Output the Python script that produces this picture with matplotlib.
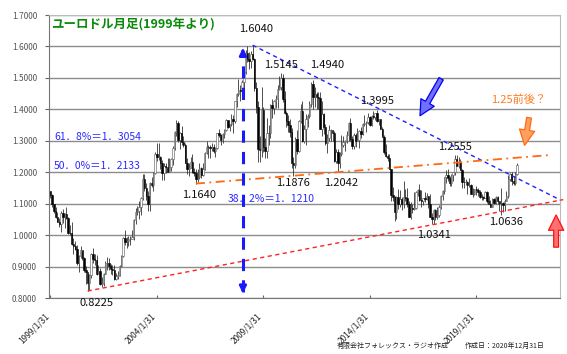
import numpy as np
import matplotlib
matplotlib.use("Agg")
import matplotlib.pyplot as plt
from matplotlib.transforms import ScaledTranslation

plt.rcParams['font.family'] = ['Noto Sans CJK JP', 'DejaVu Sans']

# EUR/USD monthly bars, 1999/1 .. 2020/12 (open = previous close)
first_open = 1.1400
highs = [
    1.1420, 1.1310, 1.1000, 1.0890, 1.0740, 1.0530, 1.0760, 1.0840, 1.0710, 1.0880, 1.0590, 1.0330,
    1.0420, 0.9920, 0.9810, 0.9690, 0.9360, 0.9660, 0.9490, 0.9300, 0.9020, 0.8760, 0.8750, 0.9430,
    0.9590, 0.9390, 0.9370, 0.9060, 0.8950, 0.8680, 0.8810, 0.9190, 0.9300, 0.9270, 0.9070, 0.9050,
    0.9040, 0.8800, 0.8850, 0.9040, 0.9380, 0.9940, 1.0160, 0.9940, 0.9960, 0.9960, 1.0180, 1.0500,
    1.0870, 1.0940, 1.1080, 1.1200, 1.1930, 1.1930, 1.1660, 1.1410, 1.1680, 1.1850, 1.2000, 1.2640,
    1.2930, 1.2930, 1.2520, 1.2390, 1.2280, 1.2310, 1.2460, 1.2440, 1.2440, 1.2820, 1.3320, 1.3670,
    1.3620, 1.3290, 1.3480, 1.3140, 1.2940, 1.2460, 1.2300, 1.2480, 1.2590, 1.2140, 1.2100, 1.2110,
    1.2290, 1.2180, 1.2280, 1.2630, 1.2980, 1.2880, 1.2860, 1.2940, 1.2900, 1.2800, 1.3260, 1.3370,
    1.3210, 1.3250, 1.3380, 1.3680, 1.3640, 1.3540, 1.3850, 1.3820, 1.4280, 1.4530, 1.4970, 1.4760,
    1.4930, 1.5240, 1.5900, 1.6020, 1.5820, 1.5840, 1.6040, 1.5630, 1.4870, 1.4250, 1.3140, 1.4720,
    1.4070, 1.3080, 1.3740, 1.3490, 1.4170, 1.4340, 1.4300, 1.4450, 1.4780, 1.5060, 1.5145, 1.5140,
    1.4580, 1.3960, 1.3820, 1.3690, 1.3410, 1.2470, 1.3110, 1.3330, 1.3650, 1.4160, 1.4280, 1.3500,
    1.3860, 1.3860, 1.4250, 1.4880, 1.4940, 1.4700, 1.4560, 1.4550, 1.4550, 1.4250, 1.3880, 1.3550,
    1.3230, 1.3490, 1.3390, 1.3280, 1.3300, 1.2740, 1.2750, 1.2630, 1.3170, 1.3140, 1.3010, 1.3310,
    1.3600, 1.3710, 1.3140, 1.3240, 1.3240, 1.3420, 1.3340, 1.3450, 1.3570, 1.3830, 1.3620, 1.3900,
    1.3780, 1.3820, 1.3960, 1.3900, 1.3995, 1.3700, 1.3700, 1.3440, 1.3190, 1.2890, 1.2580, 1.2570,
    1.2100, 1.1530, 1.1240, 1.1240, 1.1470, 1.1440, 1.1210, 1.1710, 1.1460, 1.1500, 1.1100, 1.1060,
    1.0990, 1.1380, 1.1400, 1.1460, 1.1616, 1.1430, 1.1190, 1.1370, 1.1330, 1.1260, 1.1300, 1.0690,
    1.0830, 1.0830, 1.0910, 1.0950, 1.1270, 1.1450, 1.1850, 1.2070, 1.2090, 1.1880, 1.1960, 1.2020,
    1.2540, 1.2555, 1.2470, 1.2410, 1.2100, 1.1850, 1.1790, 1.1730, 1.1820, 1.1620, 1.1500, 1.1480,
    1.1570, 1.1490, 1.1450, 1.1320, 1.1260, 1.1410, 1.1400, 1.1250, 1.1110, 1.1180, 1.1180, 1.1240,
    1.1240, 1.1050, 1.1500, 1.1040, 1.1150, 1.1420, 1.1910, 1.1970, 1.2010, 1.1880, 1.2000, 1.2310,
]
lows = [
    1.1180, 1.0890, 1.0700, 1.0560, 1.0410, 1.0270, 1.0110, 1.0380, 1.0230, 1.0500, 1.0030, 0.9990,
    0.9700, 0.9390, 0.9520, 0.9040, 0.8840, 0.9270, 0.9200, 0.8840, 0.8450, 0.8225, 0.8270, 0.8640,
    0.9120, 0.9060, 0.8730, 0.8750, 0.8420, 0.8350, 0.8390, 0.8760, 0.8880, 0.8900, 0.8750, 0.8740,
    0.8580, 0.8560, 0.8610, 0.8700, 0.9000, 0.9320, 0.9700, 0.9600, 0.9670, 0.9680, 0.9870, 0.9860,
    1.0360, 1.0630, 1.0500, 1.0640, 1.1130, 1.1410, 1.1130, 1.0770, 1.0770, 1.1530, 1.1400, 1.1950,
    1.2360, 1.2380, 1.2090, 1.1760, 1.1760, 1.1980, 1.2000, 1.2000, 1.2040, 1.2240, 1.2710, 1.3160,
    1.2960, 1.2730, 1.2880, 1.2800, 1.2300, 1.1950, 1.1870, 1.2120, 1.1990, 1.1880, 1.1640, 1.1700,
    1.1800, 1.1820, 1.1870, 1.2070, 1.2570, 1.2450, 1.2450, 1.2670, 1.2600, 1.2480, 1.2740, 1.3120,
    1.2860, 1.2940, 1.3090, 1.3320, 1.3400, 1.3310, 1.3480, 1.3260, 1.3580, 1.4070, 1.4420, 1.4250,
    1.4400, 1.4580, 1.5110, 1.5500, 1.5290, 1.5310, 1.5560, 1.4580, 1.3880, 1.2330, 1.2330, 1.2470,
    1.2660, 1.2460, 1.2460, 1.2880, 1.3080, 1.3740, 1.3840, 1.4040, 1.4050, 1.4600, 1.4620, 1.4220,
    1.3860, 1.3440, 1.3270, 1.3110, 1.2140, 1.1876, 1.2150, 1.2590, 1.2640, 1.3570, 1.2970, 1.2920,
    1.2870, 1.3440, 1.3740, 1.4060, 1.4010, 1.4070, 1.4000, 1.4000, 1.3360, 1.3150, 1.3210, 1.2860,
    1.2620, 1.3000, 1.3000, 1.3000, 1.2340, 1.2290, 1.2042, 1.2130, 1.2520, 1.2800, 1.2690, 1.2920,
    1.3000, 1.3000, 1.2750, 1.2750, 1.2800, 1.2980, 1.2760, 1.3100, 1.3180, 1.3480, 1.3290, 1.3540,
    1.3480, 1.3470, 1.3700, 1.3670, 1.3600, 1.3500, 1.3390, 1.3150, 1.2570, 1.2500, 1.2360, 1.2100,
    1.1100, 1.1100, 1.0462, 1.0520, 1.0820, 1.0880, 1.0810, 1.0850, 1.1090, 1.0900, 1.0570, 1.0520,
    1.0710, 1.0810, 1.0820, 1.1230, 1.1100, 1.0910, 1.0950, 1.1050, 1.1120, 1.0850, 1.0570, 1.0341,
    1.0340, 1.0490, 1.0500, 1.0570, 1.0840, 1.1120, 1.1310, 1.1660, 1.1720, 1.1570, 1.1550, 1.1720,
    1.1920, 1.2200, 1.2150, 1.2070, 1.1510, 1.1510, 1.1580, 1.1300, 1.1530, 1.1300, 1.1220, 1.1270,
    1.1290, 1.1230, 1.1180, 1.1110, 1.1110, 1.1180, 1.1030, 1.1030, 1.0880, 1.0880, 1.0990, 1.0980,
    1.0990, 1.0780, 1.0636, 1.0730, 1.0770, 1.1100, 1.1190, 1.1710, 1.1610, 1.1610, 1.1600, 1.1920,
]
closes = [
    1.1290, 1.0990, 1.0770, 1.0570, 1.0430, 1.0340, 1.0690, 1.0570, 1.0680, 1.0560, 1.0080, 1.0070,
    0.9710, 0.9660, 0.9570, 0.9110, 0.9340, 0.9530, 0.9260, 0.8880, 0.8830, 0.8480, 0.8720, 0.9390,
    0.9230, 0.9200, 0.8780, 0.8870, 0.8460, 0.8480, 0.8770, 0.9100, 0.9110, 0.9010, 0.8920, 0.8900,
    0.8600, 0.8690, 0.8720, 0.9020, 0.9330, 0.9910, 0.9780, 0.9800, 0.9870, 0.9890, 0.9930, 1.0490,
    1.0730, 1.0780, 1.0910, 1.1180, 1.1800, 1.1500, 1.1240, 1.0990, 1.1650, 1.1590, 1.1990, 1.2590,
    1.2470, 1.2480, 1.2290, 1.1970, 1.2200, 1.2170, 1.2020, 1.2170, 1.2420, 1.2760, 1.3280, 1.3560,
    1.3040, 1.3250, 1.2960, 1.2870, 1.2300, 1.2100, 1.2130, 1.2340, 1.2020, 1.1990, 1.1790, 1.1840,
    1.2150, 1.1920, 1.2110, 1.2620, 1.2810, 1.2790, 1.2770, 1.2810, 1.2680, 1.2760, 1.3250, 1.3200,
    1.3020, 1.3230, 1.3350, 1.3650, 1.3440, 1.3530, 1.3680, 1.3630, 1.4260, 1.4490, 1.4630, 1.4590,
    1.4860, 1.5190, 1.5790, 1.5600, 1.5550, 1.5760, 1.5600, 1.4680, 1.4080, 1.2730, 1.2700, 1.3970,
    1.2800, 1.2670, 1.3250, 1.3240, 1.4150, 1.4030, 1.4250, 1.4340, 1.4640, 1.4720, 1.5000, 1.4320,
    1.3870, 1.3620, 1.3510, 1.3290, 1.2290, 1.2230, 1.3050, 1.2680, 1.3630, 1.3940, 1.2990, 1.3380,
    1.3690, 1.3800, 1.4160, 1.4810, 1.4390, 1.4500, 1.4390, 1.4370, 1.3390, 1.3860, 1.3450, 1.2940,
    1.3090, 1.3330, 1.3340, 1.3240, 1.2370, 1.2660, 1.2300, 1.2580, 1.2860, 1.2960, 1.2990, 1.3190,
    1.3580, 1.3060, 1.2820, 1.3170, 1.2990, 1.3010, 1.3300, 1.3220, 1.3520, 1.3580, 1.3590, 1.3750,
    1.3490, 1.3800, 1.3770, 1.3870, 1.3630, 1.3690, 1.3390, 1.3130, 1.2630, 1.2530, 1.2450, 1.2100,
    1.1290, 1.1200, 1.0730, 1.1220, 1.0990, 1.1150, 1.0980, 1.1210, 1.1180, 1.1000, 1.0570, 1.0860,
    1.0830, 1.0870, 1.1380, 1.1450, 1.1130, 1.1100, 1.1170, 1.1150, 1.1240, 1.0980, 1.0590, 1.0520,
    1.0800, 1.0580, 1.0650, 1.0900, 1.1240, 1.1420, 1.1840, 1.1910, 1.1810, 1.1650, 1.1900, 1.2000,
    1.2410, 1.2190, 1.2320, 1.2080, 1.1690, 1.1680, 1.1690, 1.1600, 1.1600, 1.1310, 1.1320, 1.1470,
    1.1450, 1.1370, 1.1220, 1.1210, 1.1170, 1.1370, 1.1080, 1.0990, 1.0900, 1.1150, 1.1020, 1.1210,
    1.1090, 1.1030, 1.1030, 1.0950, 1.1100, 1.1230, 1.1780, 1.1940, 1.1720, 1.1650, 1.1930, 1.2220,
]

tick_months = [0, 60, 120, 180, 240]
tick_labels = ['1999/1/31', '2004/1/31', '2009/1/31', '2014/1/31', '2019/1/31']

# trend lines (month index, price)
resist_x, resist_y = [114, 288], [1.6040, 1.1100]
support_x, support_y = [21, 289], [0.8225, 1.1130]
mid_x, mid_y = [82, 282], [1.1640, 1.2550]

# point labels: text, month index, price
peak_labels = [
    ('1.6040', 116, 1.655), ('1.5145', 130, 1.541), ('1.4940', 156, 1.541),
    ('1.3995', 184, 1.426), ('1.2555', 228, 1.280),
    ('1.1640', 84, 1.127), ('1.1876', 137, 1.166), ('1.2042', 164, 1.166),
    ('1.0341', 216, 1.000), ('1.0636', 257, 1.042), ('0.8225', 26, 0.784),
]
fibo_labels = [
    ('61．8%＝1．3054', 2, 1.312), ('50．0%＝1．2133', 2, 1.220), ('38．2%＝1．1210', 100, 1.115),
]

opens = [first_open] + closes[:-1]
months = np.arange(len(closes))
o = np.array(opens); c = np.array(closes)
h = np.array(highs); l = np.array(lows)
up = c >= o

fig = plt.figure(figsize=(5.67, 3.54), dpi=100)
ax = fig.add_axes([0.0873, 0.158, 0.9004, 0.7996])

ax.set_ylim(0.8, 1.7)
ax.set_xlim(-0.5, 287.2)
ax.set_yticks(np.arange(0.8, 1.71, 0.1))
ax.set_yticklabels(['%.4f' % v for v in np.arange(0.8, 1.71, 0.1)], fontsize=6, color='#555555')
ax.yaxis.grid(True, color='#8c8c8c', lw=1.0)
ax.set_axisbelow(True)
ax.set_xticks(tick_months)
ax.set_xticklabels(tick_labels, rotation=45, ha='right', rotation_mode='anchor', fontsize=6, color='#222222')
ax.tick_params(axis='x', direction='in', length=2, color='#666666', pad=10)
ax.tick_params(axis='y', direction='out', length=3, color='#666666', pad=6)
for lab in ax.get_xticklabels():
    lab.set_transform(lab.get_transform() + ScaledTranslation(-0.06, 0, fig.dpi_scale_trans))
for s in ['left', 'bottom']:
    ax.spines[s].set_color('#777777')
for s in ['top', 'right']:
    ax.spines[s].set_color('#bbbbbb')

# candles
ax.vlines(months, l, h, color='#333333', lw=0.6, zorder=2)
ax.bar(months[up], (c - o)[up], bottom=o[up], width=0.8, color='white', edgecolor='#555555', lw=0.4, zorder=3)
ax.bar(months[~up], (o - c)[~up], bottom=c[~up], width=0.8, color='black', edgecolor='black', lw=0.4, zorder=3)

# trend lines
ax.plot(resist_x, resist_y, color='#2020ff', ls=(0, (3, 2.5)), lw=1.0, zorder=4)
ax.plot(support_x, support_y, color='#ff2020', ls=(0, (3, 2.5)), lw=1.0, zorder=4, clip_on=False)
ax.plot(mid_x, mid_y, color='#ff6a10', ls=(0, (5, 2.5, 1, 2.5)), lw=1.3, zorder=4)

# vertical dashed arrow at the 2008 top
ax.plot([108.5, 108.5], [0.82, 1.585], color='#1a1aff', ls=(0, (4, 3)), lw=2.2, zorder=5)
ax.annotate('', xy=(108.5, 1.604), xytext=(108.5, 1.57),
            arrowprops=dict(arrowstyle='-|>', color='#1a1aff', lw=2, mutation_scale=10), zorder=5)
ax.annotate('', xy=(108.5, 0.806), xytext=(108.5, 0.84),
            arrowprops=dict(arrowstyle='-|>', color='#1a1aff', lw=2, mutation_scale=10), zorder=5)

# block arrows (double-line look: coloured outline, pale fill)
arrow_style = 'simple,head_width=1.1,head_length=1.1,tail_width=0.35'
ax.annotate('', xy=(207.5, 1.372), xytext=(221, 1.505),
            arrowprops=dict(arrowstyle=arrow_style, fc='#7070ff', ec='#0000f0', lw=0.9, mutation_scale=10), zorder=6)
ax.annotate('', xy=(267, 1.277), xytext=(270, 1.382),
            arrowprops=dict(arrowstyle=arrow_style, fc='#ffa060', ec='#ff6a10', lw=0.9, mutation_scale=10), zorder=6)
ax.annotate('', xy=(285, 1.073), xytext=(285, 0.953),
            arrowprops=dict(arrowstyle=arrow_style, fc='#ff7070', ec='#ff1010', lw=0.9, mutation_scale=10), zorder=6)

# texts
ax.text(0.5, 1.668, 'ユーロドル月足(1999年より)', color='#0a8a0a', fontsize=9, fontweight='bold',
        va='center', ha='left', zorder=7)
for t, x, y in peak_labels:
    ax.text(x, y, t, fontsize=8, ha='center', va='center', color='#111111', zorder=7, clip_on=False)
for t, x, y in fibo_labels:
    ax.text(x, y, t, fontsize=7.5, ha='left', va='center', color='#2a2aff', zorder=7)
ax.text(264, 1.430, '1.25前後？', fontsize=8, ha='center', va='center', color='#ff7a20', zorder=7)

fig.text(0.594, 0.022, '有限会社フォレックス・ラジオ作成', fontsize=5, ha='left', va='center', color='#222222')
fig.text(0.820, 0.022, '作成日：2020年12月31日', fontsize=5, ha='left', va='center', color='#222222')

fig.savefig('out.png', dpi=100)
